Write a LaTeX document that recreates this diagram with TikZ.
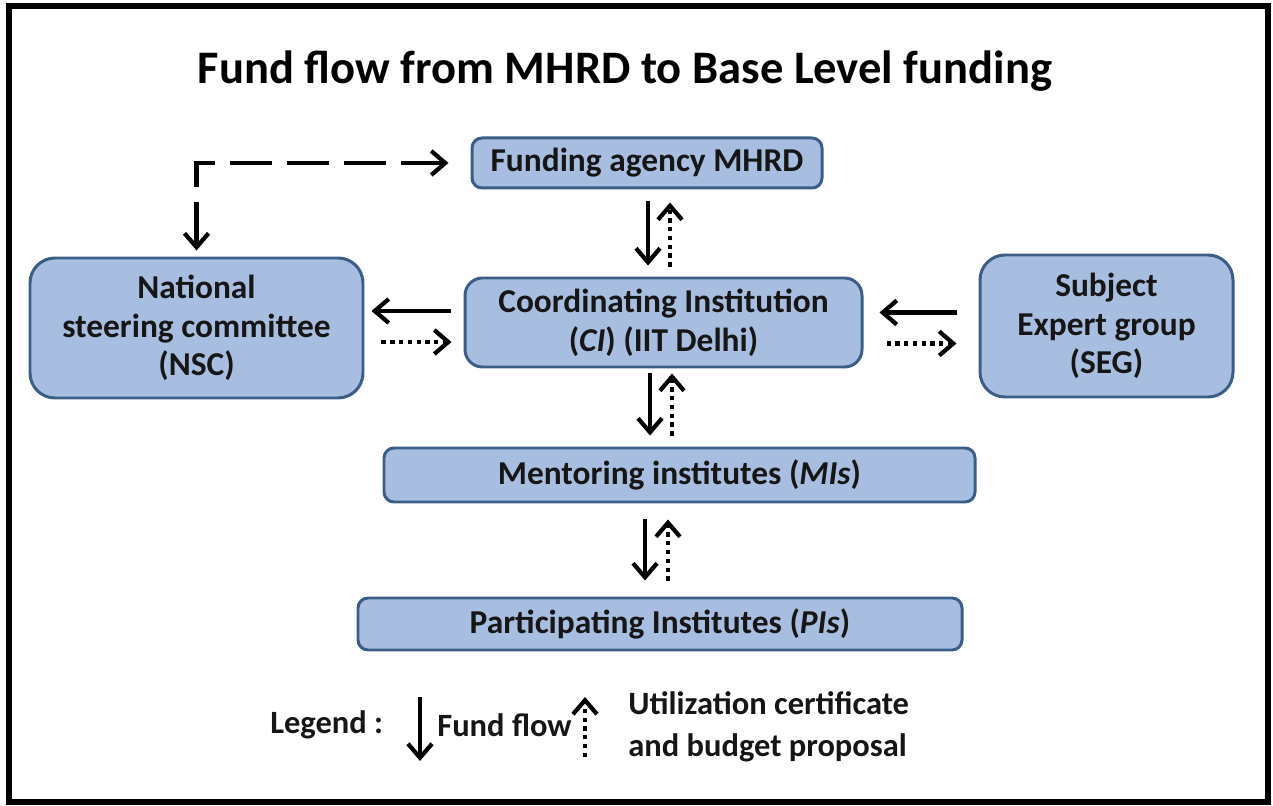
\documentclass[tikz,border=0pt]{standalone}
\usepackage{fontspec}
\setmainfont{Carlito}
\usetikzlibrary{arrows.meta,positioning,calc}
\definecolor{boxfill}{HTML}{A7BEE0}
\definecolor{boxline}{HTML}{3B5E86}
\definecolor{ink}{HTML}{161616}
\tikzset{
  unit/.style={draw=boxline, fill=boxfill, line width=1.7pt, text=ink,
    font=\fontsize{19}{22}\selectfont\bfseries, align=center, inner sep=0pt},
  fund/.style={-{Straight Barb[length=2.8mm,width=4.8mm,line join=miter]}, line width=2.4pt},
  util/.style={-{Straight Barb[length=2.8mm,width=4.8mm,line join=miter]}, line width=2.4pt,
    dash pattern=on 2.4pt off 2.6pt},
  ctrl/.style={{Straight Barb[length=2.8mm,width=4.8mm]}-{Straight Barb[length=2.8mm,width=4.8mm]},
    line width=2.4pt, dash pattern=on 24pt off 8.5pt},
  legendtxt/.style={text=ink, font=\fontsize{18.5}{24}\selectfont\bfseries, align=left, inner sep=0pt}
}

\begin{document}
\begin{tikzpicture}
  \useasboundingbox (0,0) rectangle (25.46,-16.12);
  \draw[line width=3pt] (0.18,-0.12) rectangle (25.36,-16.04);

  \node[font=\fontsize{26.5}{30}\selectfont\bfseries, anchor=base] (title) at (12.5,-1.68)
    {Fund flow from MHRD to Base Level funding};

  \node[unit, rounded corners=0.2cm, minimum width=7cm, minimum height=1cm] (mhrd) at (12.94,-3.26)
    {Funding agency MHRD};
  \node[unit, rounded corners=0.5cm, minimum width=6.66cm, minimum height=2.8cm] (nsc) at (3.93,-6.56)
    {National\\steering committee\\(NSC)};
  \node[unit, rounded corners=0.35cm, minimum width=7.94cm, minimum height=1.78cm] (ci) at (13.27,-6.45)
    {Coordinating Institution\\(\textit{CI}) (IIT Delhi)};
  \node[unit, rounded corners=0.5cm, minimum width=5.06cm, minimum height=2.84cm] (seg) at (22.13,-6.52)
    {Subject\\Expert group\\(SEG)};
  \node[unit, rounded corners=0.2cm, minimum width=11.82cm, minimum height=1.08cm] (mi) at (13.59,-9.5)
    {Mentoring institutes (\textit{MIs})};
  \node[unit, rounded corners=0.2cm, minimum width=12.08cm, minimum height=1.04cm] (pi) at (13.2,-12.48)
    {Participating Institutes (\textit{PIs})};

  % MHRD <-> CI
  \draw[fund, shorten <=0.24cm, shorten >=0.22cm] ([xshift=0.02cm]mhrd.south) -- ([xshift=0.02cm]mhrd.south |- ci.north);
  \draw[util, shorten <=0.2cm, shorten >=0.26cm] ([xshift=0.46cm]mhrd.south |- ci.north) -- ([xshift=0.46cm]mhrd.south);

  % CI <-> MI
  \draw[fund, shorten <=0.1cm, shorten >=0.22cm] ([xshift=-0.27cm]ci.south) -- ([xshift=-0.27cm]ci.south |- mi.north);
  \draw[util, shorten <=0.22cm, shorten >=0.1cm] ([xshift=0.17cm]ci.south |- mi.north) -- ([xshift=0.17cm]ci.south);

  % MI <-> PI
  \draw[fund, shorten <=0.32cm, shorten >=0.32cm] ([xshift=-0.69cm]mi.south) -- ([xshift=-0.69cm]mi.south |- pi.north);
  \draw[util, shorten <=0.32cm, shorten >=0.32cm] ([xshift=-0.23cm]mi.south |- pi.north) -- ([xshift=-0.23cm]mi.south);

  % NSC <-> CI
  \draw[fund, shorten <=0.26cm, shorten >=0.14cm] ([yshift=0.23cm]ci.west) -- ([yshift=0.23cm]ci.west -| nsc.east);
  \draw[util, shorten <=0.34cm, shorten >=0.24cm] ([yshift=-0.39cm]ci.west -| nsc.east) -- ([yshift=-0.39cm]ci.west);

  % SEG <-> CI
  \draw[fund, shorten <=0.44cm, shorten >=0.32cm] ([yshift=0.2cm]ci.east -| seg.west) -- ([yshift=0.2cm]ci.east);
  \draw[util, shorten <=0.46cm, shorten >=0.44cm] ([yshift=-0.42cm]ci.east) -- ([yshift=-0.42cm]ci.east -| seg.west);

  % NSC <-> MHRD
  \draw[ctrl, shorten <=0.44cm, shorten >=0.12cm] (mhrd.west) -| (nsc.north);

  % legend
  \node[legendtxt, anchor=west] (lgd) at (5.4,-14.5) {Legend :};
  \coordinate (fundtop) at (8.4,-13.94);
  \coordinate (fundbot) at (8.4,-15.22);
  \draw[fund] (fundtop) -- (fundbot);
  \node[legendtxt, anchor=west] (lgfund) at (8.74,-14.5) {Fund flow};
  \coordinate (utiltop) at (11.7,-13.94);
  \coordinate (utilbot) at (11.7,-15.14);
  \draw[util] (utilbot) -- (utiltop);
  \node[legendtxt, anchor=west] (lgutil) at (12.56,-14.53) {Utilization certificate\\and budget proposal};
\end{tikzpicture}
\end{document}
